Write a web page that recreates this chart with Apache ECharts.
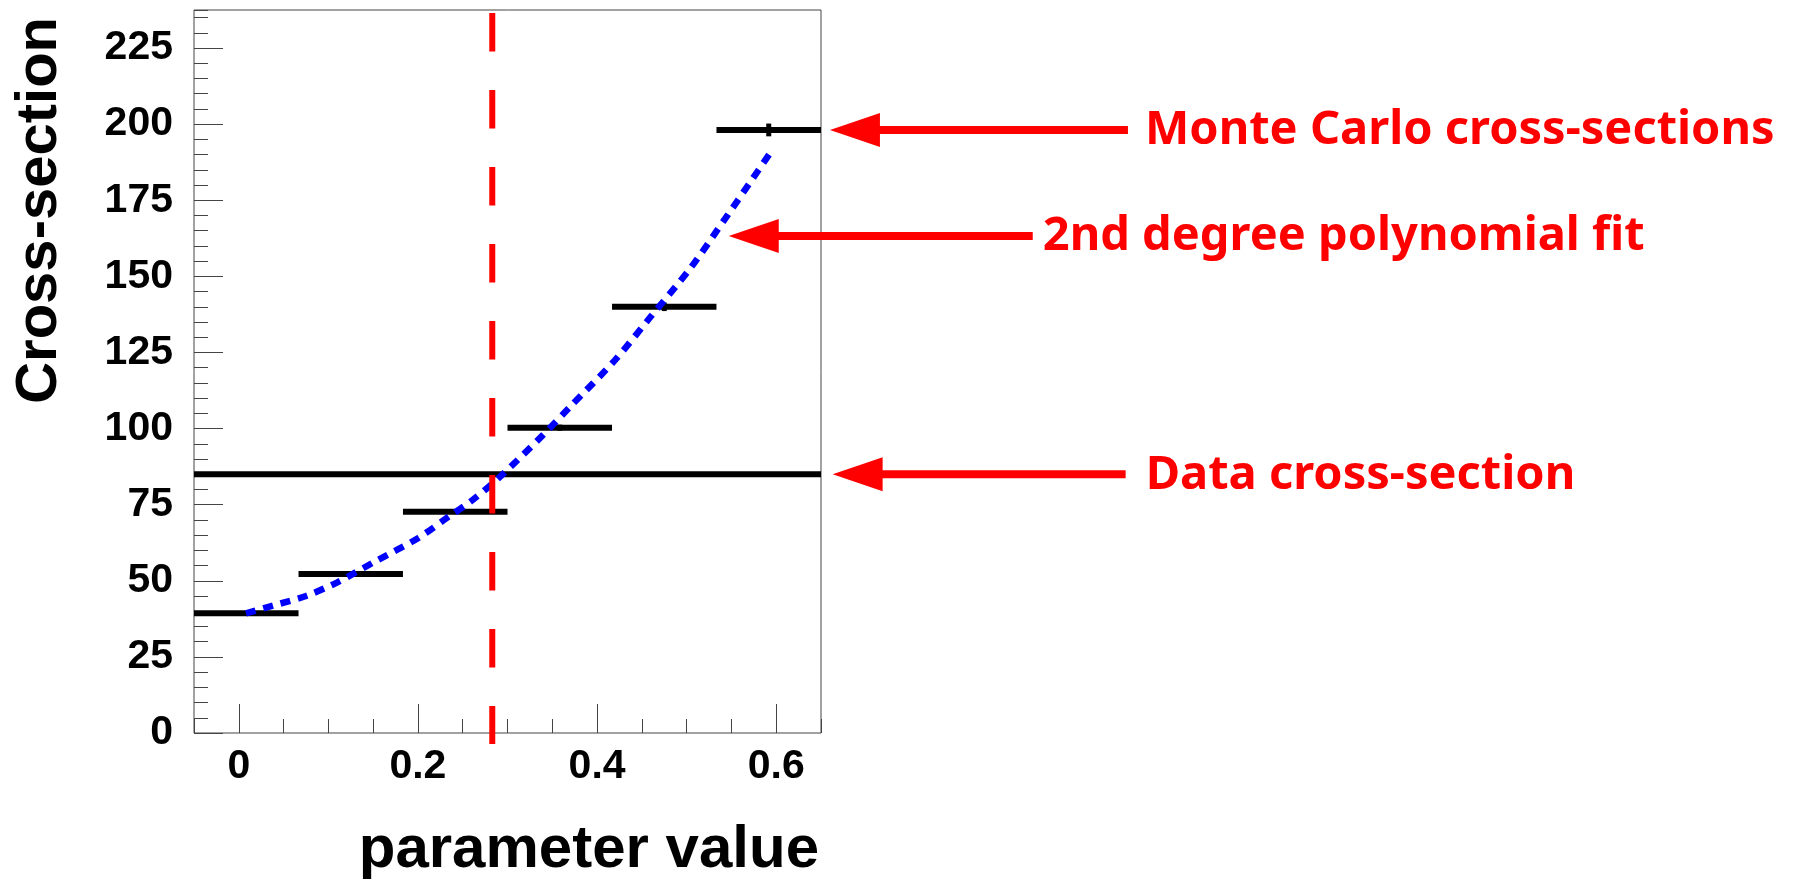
<!DOCTYPE html>
<html>
<head>
<meta charset="utf-8">
<script src="https://cdn.jsdelivr.net/npm/echarts@6/dist/echarts.min.js"></script>
<style>
html,body{margin:0;padding:0;background:#ffffff;}
#c{width:1793px;height:883px;}
</style>
</head>
<body>
<div id="c"></div>
<script>
// ---------------- data ----------------
const binEdges = [-0.05, 0.0667, 0.1833, 0.3, 0.4167, 0.5333, 0.65];
const mcValues = [39.3, 52.2, 72.7, 100.3, 140.0, 198.1];
const mcErrors = [0.5, 0.6, 0.8, 1.0, 1.4, 2.1];
const dataXsec = 85;
const crossX = 0.283;
const crossLineY = [236.5, -3.6];
const fitX = [0.008, 0.04, 0.075, 0.11, 0.155, 0.2, 0.235, 0.26, 0.29, 0.34, 0.37, 0.42, 0.46, 0.505, 0.545, 0.57, 0.592];
const fitY = [39.3, 42.0, 45.0, 49.5, 56.8, 64.0, 71.2, 76.3, 83.7, 98.0, 107.2, 122.5, 136.8, 153.0, 169.8, 180.5, 190.0];
const xRange = [-0.05, 0.65];
const yRange = [0, 237.5];
const xMajorTicks = [0, 0.2, 0.4, 0.6];
const yMajorTicks = [0, 25, 50, 75, 100, 125, 150, 175, 200, 225];
const xTitle = 'parameter value';
const yTitle = 'Cross-section';
const annoLabels = ['Monte Carlo cross-sections', '2nd degree polynomial fit', 'Data cross-section'];
const annoTipX = [0.660, 0.547, 0.663];
const annoTipY = [198.1, 163.3, 85];

// ---------------- chart ----------------
const GRID = {left: 194, right: 972, top: 10, bottom: 150};
const AX = '#444444';
const tickFont = 'Liberation Sans, Arial, sans-serif';

const mcData = mcValues.map((v, i) => [binEdges[i], binEdges[i + 1], v, mcErrors[i]]);
const fitData = fitX.map((x, i) => [x, fitY[i]]);

const option = {
  animation: false,
  backgroundColor: '#ffffff',
  grid: {left: GRID.left, right: GRID.right, top: GRID.top, bottom: GRID.bottom,
         show: true, borderColor: AX, borderWidth: 1, backgroundColor: 'transparent'},
  xAxis: [
    {type: 'value', min: xRange[0], max: xRange[1], position: 'bottom',
     axisLine: {show: false, onZero: false}, splitLine: {show: false},
     axisTick: {show: true, inside: true, length: 29, customValues: xMajorTicks,
                lineStyle: {color: AX, width: 1}},
     axisLabel: {show: true, customValues: xMajorTicks, margin: 13, color: '#000',
                 fontFamily: tickFont, fontWeight: 'bold', fontSize: 41}},
    {type: 'value', min: xRange[0], max: xRange[1], interval: 0.05, position: 'bottom',
     axisLine: {show: false, onZero: false}, splitLine: {show: false}, axisLabel: {show: false},
     axisTick: {show: true, inside: true, length: 14, lineStyle: {color: AX, width: 1}}}
  ],
  yAxis: [
    {type: 'value', min: yRange[0], max: yRange[1], position: 'left',
     axisLine: {show: false, onZero: false}, splitLine: {show: false},
     axisTick: {show: true, inside: true, length: 29, customValues: yMajorTicks,
                lineStyle: {color: AX, width: 1}},
     axisLabel: {show: true, customValues: yMajorTicks, margin: 21, color: '#000',
                 fontFamily: tickFont, fontWeight: 'bold', fontSize: 41}},
    {type: 'value', min: yRange[0], max: yRange[1], interval: 5, position: 'left',
     axisLine: {show: false, onZero: false}, splitLine: {show: false}, axisLabel: {show: false},
     axisTick: {show: true, inside: true, length: 14, lineStyle: {color: AX, width: 1}}}
  ],
  series: [
    {
      name: 'Monte Carlo cross-sections', type: 'custom', xAxisIndex: 0, yAxisIndex: 0, z: 3,
      data: mcData, encode: {x: [0, 1], y: 2},
      renderItem: function (params, api) {
        const lo = api.value(0), hi = api.value(1), v = api.value(2), e = api.value(3);
        const mid = (lo + hi) / 2;
        const p1 = api.coord([lo, v]), p2 = api.coord([hi, v]);
        const t = api.coord([mid, v + e]), b = api.coord([mid, v - e]);
        return {type: 'group', children: [
          {type: 'line', shape: {x1: p1[0], y1: p1[1], x2: p2[0], y2: p2[1]},
           style: {stroke: '#000', lineWidth: 6, lineCap: 'butt'}},
          {type: 'line', shape: {x1: t[0], y1: t[1], x2: b[0], y2: b[1]},
           style: {stroke: '#000', lineWidth: 5, lineCap: 'butt'}}
        ]};
      }
    },
    {
      name: 'Data cross-section', type: 'line', z: 3, symbol: 'none', silent: true,
      data: [[xRange[0], dataXsec], [xRange[1], dataXsec]],
      lineStyle: {color: '#000', width: 6, cap: 'butt'}
    },
    {
      name: '2nd degree polynomial fit', type: 'line', z: 4, symbol: 'none', smooth: 0.3, silent: true,
      data: fitData,
      lineStyle: {color: '#0000ff', width: 6.5, type: [10, 8], cap: 'butt'}
    },
    {
      name: 'crossing', type: 'line', z: 5, symbol: 'none', clip: false, silent: true,
      data: [[crossX, crossLineY[0]], [crossX, crossLineY[1]]],
      lineStyle: {color: '#ff0000', width: 6, type: [38.5, 38.5], cap: 'butt'}
    }
  ]
};

const chart = echarts.init(document.getElementById('c'), null, {renderer: 'canvas'});
chart.setOption(option);

const gridRight = 1793 - GRID.right;
const gridBottom = 883 - GRID.bottom;
const graphics = [
  {type: 'text', x: gridRight - 2, y: gridBottom + 117,
   style: {text: xTitle, font: 'bold 60px "Liberation Sans", Arial, sans-serif', fill: '#000',
           align: 'right', verticalAlign: 'middle', textAlign: 'right', textVerticalAlign: 'middle'}},
  {type: 'text', x: 40, y: 17, rotation: Math.PI / 2,
   style: {text: yTitle, font: 'bold 58px "Liberation Sans", Arial, sans-serif', fill: '#000',
           align: 'right', verticalAlign: 'middle', textAlign: 'right', textVerticalAlign: 'middle'}}
];
const shaftLen = [298, 304, 293];
const textGap = [17, 10, 20];
annoLabels.forEach((label, i) => {
  const tip = chart.convertToPixel({seriesIndex: 0}, [annoTipX[i], annoTipY[i]]);
  const tx = tip[0], ty = tip[1];
  const headLen = 50, headHalf = 17;
  graphics.push({type: 'polygon', z: 10,
    shape: {points: [[tx, ty], [tx + headLen, ty - headHalf], [tx + headLen, ty + headHalf]]},
    style: {fill: '#ff0000'}});
  graphics.push({type: 'line', z: 10,
    shape: {x1: tx + headLen - 4, y1: ty, x2: tx + shaftLen[i], y2: ty},
    style: {stroke: '#ff0000', lineWidth: 8, lineCap: 'butt'}});
  graphics.push({type: 'text', z: 10, x: tx + shaftLen[i] + textGap[i], y: ty + 1,
    style: {text: label, font: 'bold 47px "Noto Sans", "Open Sans", sans-serif', fill: '#ff0000',
            align: 'left', verticalAlign: 'middle', textAlign: 'left', textVerticalAlign: 'middle'}});
});
chart.setOption({graphic: graphics});
</script>
</body>
</html>
